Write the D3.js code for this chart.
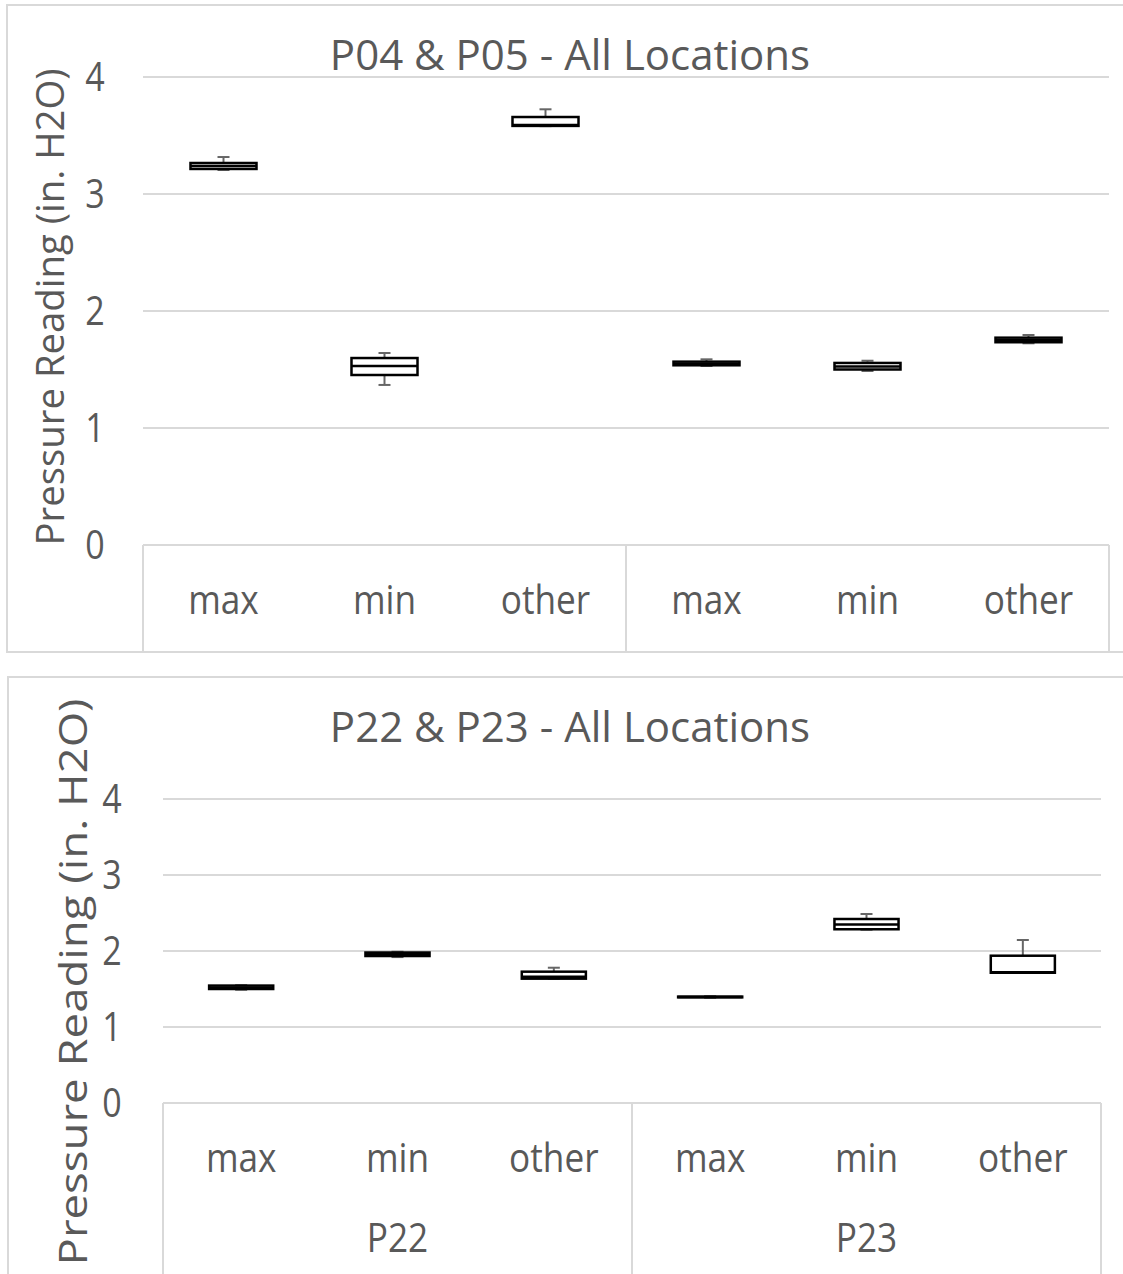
<!DOCTYPE html>
<html lang="en">
<head>
<meta charset="UTF-8">
<title>Pressure Readings - Box Plots</title>
<script src="https://d3js.org/d3.v7.min.js"></script>
<style>
  body { margin: 0; background: #fff; }
  svg { display: block; font-family: 'Open Sans', 'Noto Sans', sans-serif; }
</style>
</head>
<body>
<svg id="chart" width="1123" height="1274"></svg>
<script>
// categories shared by both charts
var categories = ["max", "min", "other", "max", "min", "other"];
var yTicks = [0, 1, 2, 3, 4];

// P04 & P05 (group row is cropped out in the picture)
var p0405Groups = ["P04", "P05"];
var p0405Min    = [3.205, 1.368, 3.580, 1.530, 1.487, 1.724];
var p0405Q1     = [3.214, 1.453, 3.582, 1.536, 1.500, 1.733];
var p0405Median = [3.240, 1.530, 3.590, 1.550, 1.525, 1.750];
var p0405Q3     = [3.265, 1.598, 3.658, 1.567, 1.556, 1.772];
var p0405Max    = [3.316, 1.641, 3.724, 1.587, 1.575, 1.795];

// P22 & P23
var p2223Groups = ["P22", "P23"];
var p2223Min    = [1.490, 1.920, 1.636, 1.385, 2.280, 1.714];
var p2223Q1     = [1.500, 1.934, 1.636, 1.390, 2.286, 1.714];
var p2223Median = [1.520, 1.957, 1.660, 1.395, 2.350, 1.720];
var p2223Q3     = [1.545, 1.980, 1.728, 1.400, 2.421, 1.938];
var p2223Max    = [1.550, 1.990, 1.780, 1.405, 2.487, 2.145];

var textColor = "#595959";
var lineColor = "#d9d9d9";
var svg = d3.select("#chart");

function drawChart(cfg) {
  var g = svg.append("g");
  var rows = categories.map(function(c, i) {
    return { cat: c, min: cfg.min[i], q1: cfg.q1[i], med: cfg.median[i], q3: cfg.q3[i], max: cfg.max[i] };
  });

  // outer chart frame
  g.append("rect")
    .attr("x", cfg.frame[0]).attr("y", cfg.frame[1])
    .attr("width", cfg.frame[2]).attr("height", cfg.frame[3])
    .attr("fill", "#fff").attr("stroke", lineColor).attr("stroke-width", 2);

  var x = d3.scaleBand().domain(d3.range(categories.length)).range([cfg.left, cfg.right]);
  var y = d3.scaleLinear().domain([0, 4]).range([cfg.bottom, cfg.top]);

  // title
  g.append("text")
    .attr("x", 570).attr("y", cfg.titleY)
    .attr("text-anchor", "middle").attr("fill", textColor)
    .attr("font-size", 42)
    .text(cfg.title);

  // y axis title
  g.append("text")
    .attr("transform", "translate(" + cfg.yTitleX + "," + cfg.yTitleY + ") rotate(-90)")
    .attr("text-anchor", "middle").attr("fill", textColor)
    .attr("font-size", 38)
    .attr("textLength", cfg.yTitleLen).attr("lengthAdjust", "spacingAndGlyphs")
    .text("Pressure Reading (in. H2O)");

  // gridlines
  g.selectAll("line.grid").data(yTicks.filter(function(d) { return d > 0; })).enter()
    .append("line").attr("class", "grid")
    .attr("x1", cfg.left).attr("x2", cfg.right)
    .attr("y1", function(d) { return y(d); }).attr("y2", function(d) { return y(d); })
    .attr("stroke", lineColor).attr("stroke-width", 2);

  // tick labels
  g.selectAll("text.tick").data(yTicks).enter()
    .append("text").attr("class", "tick")
    .attr("transform", function(d) { return "translate(" + cfg.tickX + "," + (y(d) + 14) + ") scale(0.85,1)"; })
    .attr("text-anchor", "middle").attr("fill", textColor)
    .attr("font-size", 40)
    .text(function(d) { return d; });

  // category axis box
  g.append("line")
    .attr("x1", cfg.left).attr("x2", cfg.right)
    .attr("y1", y(0)).attr("y2", y(0))
    .attr("stroke", lineColor).attr("stroke-width", 2);
  var seps = [0, 3, 6].map(function(i) { return i < 6 ? x(i) : cfg.right; });
  g.selectAll("line.sep").data(seps).enter()
    .append("line").attr("class", "sep")
    .attr("x1", function(d) { return d; }).attr("x2", function(d) { return d; })
    .attr("y1", y(0)).attr("y2", cfg.axisEnd)
    .attr("stroke", lineColor).attr("stroke-width", 2);

  g.selectAll("text.cat").data(categories).enter()
    .append("text").attr("class", "cat")
    .attr("transform", function(d, i) { return "translate(" + (x(i) + x.bandwidth() / 2) + "," + cfg.catY + ") scale(0.88,1)"; })
    .attr("text-anchor", "middle").attr("fill", textColor)
    .attr("font-size", 40)
    .text(function(d) { return d; });

  if (cfg.showGroups) {
    g.selectAll("text.grp").data(cfg.groups).enter()
      .append("text").attr("class", "grp")
      .attr("transform", function(d, i) { return "translate(" + (x(i * 3) + x.bandwidth() * 1.5) + "," + cfg.groupY + ") scale(0.88,1)"; })
      .attr("text-anchor", "middle").attr("fill", textColor)
      .attr("font-size", 40)
      .text(function(d) { return d; });
  }

  // boxes
  var bw = x.bandwidth() * 0.41;
  var capW = 12;
  var box = g.selectAll("g.box").data(rows).enter()
    .append("g").attr("class", "box")
    .attr("transform", function(d, i) { return "translate(" + (x(i) + x.bandwidth() / 2) + ",0)"; });

  box.append("line")
    .attr("x1", 0).attr("x2", 0)
    .attr("y1", function(d) { return y(d.max); }).attr("y2", function(d) { return y(d.q3); })
    .attr("stroke", "#666").attr("stroke-width", 2);
  box.append("line")
    .attr("x1", 0).attr("x2", 0)
    .attr("y1", function(d) { return y(d.min); }).attr("y2", function(d) { return y(d.q1); })
    .attr("stroke", "#666").attr("stroke-width", 2);
  box.append("line")
    .attr("x1", -capW / 2).attr("x2", capW / 2)
    .attr("y1", function(d) { return y(d.max); }).attr("y2", function(d) { return y(d.max); })
    .attr("stroke", "#666").attr("stroke-width", 2);
  box.append("line")
    .attr("x1", -capW / 2).attr("x2", capW / 2)
    .attr("y1", function(d) { return y(d.min); }).attr("y2", function(d) { return y(d.min); })
    .attr("stroke", "#666").attr("stroke-width", 2);

  box.append("rect")
    .attr("x", -bw / 2).attr("width", bw)
    .attr("y", function(d) { return y(d.q3); })
    .attr("height", function(d) { return Math.max(0.5, y(d.q1) - y(d.q3)); })
    .attr("fill", "#fff").attr("stroke", "#000").attr("stroke-width", 2.5);
  box.append("line")
    .attr("x1", -bw / 2).attr("x2", bw / 2)
    .attr("y1", function(d) { return y(d.med); }).attr("y2", function(d) { return y(d.med); })
    .attr("stroke", "#000").attr("stroke-width", 2.5);
}

drawChart({
  title: "P04 & P05 - All Locations", groups: p0405Groups, showGroups: false,
  min: p0405Min, q1: p0405Q1, median: p0405Median, q3: p0405Q3, max: p0405Max,
  frame: [7, 5, 1140, 647],
  left: 143, right: 1109, top: 77, bottom: 545,
  titleY: 70, tickX: 95, yTitleX: 64, yTitleY: 307, yTitleLen: 477,
  catY: 614, groupY: 0, axisEnd: 652
});

drawChart({
  title: "P22 & P23 - All Locations", groups: p2223Groups, showGroups: true,
  min: p2223Min, q1: p2223Q1, median: p2223Median, q3: p2223Q3, max: p2223Max,
  frame: [8, 677, 1140, 620],
  left: 163, right: 1101, top: 799, bottom: 1103,
  titleY: 742, tickX: 112, yTitleX: 87, yTitleY: 982, yTitleLen: 567,
  catY: 1172, groupY: 1252, axisEnd: 1274
});
</script>
</body>
</html>
